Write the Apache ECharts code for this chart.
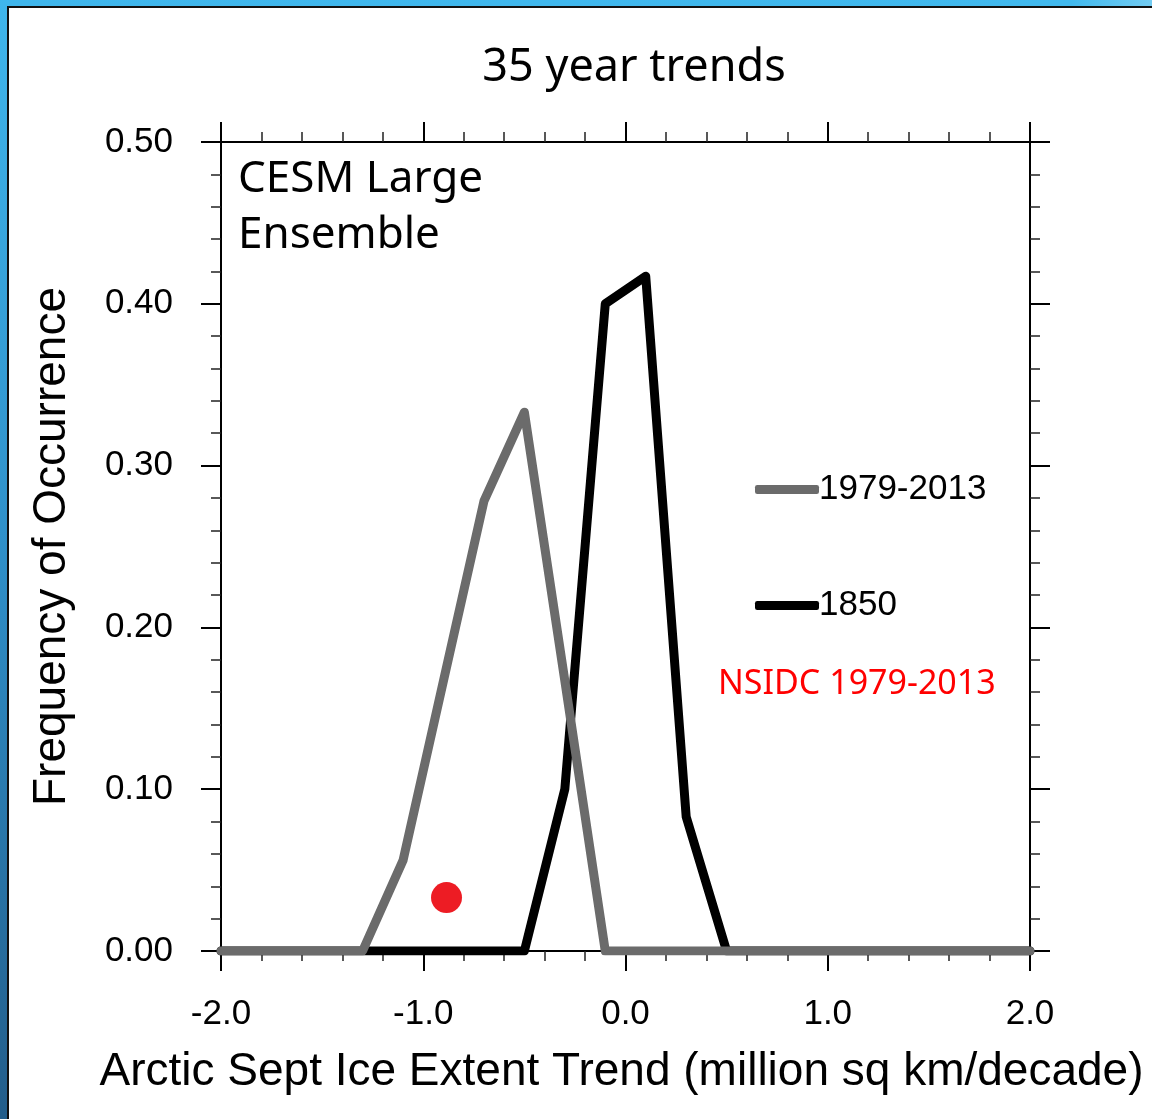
<!DOCTYPE html>
<html>
<head>
<meta charset="utf-8">
<script src="https://cdn.jsdelivr.net/npm/echarts@6/dist/echarts.min.js"></script>
<style>
html,body{margin:0;padding:0;background:#fff;}
#chart{width:1152px;height:1119px;}
</style>
</head>
<body>
<div id="chart"></div>
<script>
// Bin centres (million sq km / decade), with end points at the axis limits
const trendX = [-2.0, -1.9, -1.7, -1.5, -1.3, -1.1, -0.9, -0.7, -0.5, -0.3, -0.1, 0.1, 0.3, 0.5, 0.7, 0.9, 1.1, 1.3, 1.5, 1.7, 1.9, 2.0];
// Frequency of occurrence, CESM LE 1979-2013 trends
const freq19792013 = [0, 0, 0, 0, 0, 0.056, 0.167, 0.278, 0.333, 0.167, 0, 0, 0, 0, 0, 0, 0, 0, 0, 0, 0, 0];
// Frequency of occurrence, 1850 control trends
const freq1850 = [0, 0, 0, 0, 0, 0, 0, 0, 0, 0.100, 0.400, 0.417, 0.083, 0, 0, 0, 0, 0, 0, 0, 0, 0];
// NSIDC observed 1979-2013 trend
const nsidcTrend = [-0.885];
const nsidcFreq = [0.033];
const seriesNames = ['1979-2013', '1850'];

const pairs = (xs, ys) => xs.map((x, i) => [x, ys[i]]);

const chart = echarts.init(document.getElementById('chart'));
const sans = 'Liberation Sans';
const hum = 'Noto Sans';

const axisCommon = {
  type: 'value',
  axisLine: {show: true, onZero: false, lineStyle: {color: '#000', width: 2}},
  axisTick: {show: true, inside: false, length: 20, lineStyle: {color: '#000', width: 2}},
  minorTick: {show: true, splitNumber: 5, length: 10, lineStyle: {color: '#222', width: 1.5}},
  splitLine: {show: false},
  minorSplitLine: {show: false}
};

chart.setOption({
  animation: false,
  backgroundColor: '#fff',
  title: {
    text: '35 year trends',
    left: 629, top: 41, textAlign: 'center',
    textStyle: {fontFamily: hum, fontSize: 45, fontWeight: 'normal', color: '#000'}
  },
  grid: {left: 221, right: 122, top: 142, bottom: 168, containLabel: false, outerBoundsMode: 'none'},
  xAxis: [
    Object.assign({}, axisCommon, {
      position: 'bottom', min: -2, max: 2, interval: 1,
      axisLabel: {show: true, margin: 46, fontFamily: sans, fontSize: 35, color: '#000',
        formatter: v => v.toFixed(1)},
      name: 'Arctic Sept Ice Extent Trend (million sq km/decade)',
      nameLocation: 'middle', nameGap: 98,
      nameTextStyle: {fontFamily: sans, fontSize: 46, color: '#000', padding: [0, 0, 0, -8]}
    }),
    Object.assign({}, axisCommon, {
      position: 'top', min: -2, max: 2, interval: 1,
      axisLabel: {show: false}
    })
  ],
  yAxis: [
    Object.assign({}, axisCommon, {
      position: 'left', min: 0, max: 0.5, interval: 0.1,
      axisLabel: {show: true, margin: 48, fontFamily: sans, fontSize: 35, color: '#000',
        formatter: v => v.toFixed(2)},
      name: 'Frequency of Occurrence',
      nameLocation: 'middle', nameGap: 146, nameRotate: 90,
      nameTextStyle: {fontFamily: sans, fontSize: 46, color: '#000'}
    }),
    Object.assign({}, axisCommon, {
      position: 'right', min: 0, max: 0.5, interval: 0.1,
      axisLabel: {show: false}
    })
  ],
  legend: {
    show: true,
    orient: 'vertical',
    left: 750, top: 467,
    selectedMode: false,
    icon: 'roundRect',
    itemWidth: 64, itemHeight: 9,
    itemGap: 81,
    data: seriesNames,
    textStyle: {fontFamily: sans, fontSize: 35, color: '#000', padding: [0, 0, 0, -5]}
  },
  series: [
    {
      name: '1850', type: 'line', data: pairs(trendX, freq1850),
      showSymbol: false, symbol: 'none', color: '#000',
      lineStyle: {color: '#000', width: 9, cap: 'round', join: 'round'}
    },
    {
      name: '1979-2013', type: 'line', data: pairs(trendX, freq19792013),
      showSymbol: false, symbol: 'none', color: '#6b6b6b',
      lineStyle: {color: '#6b6b6b', width: 9, cap: 'round', join: 'round'}
    },
    {
      name: 'NSIDC 1979-2013', type: 'scatter', data: pairs(nsidcTrend, nsidcFreq),
      symbol: 'circle', symbolSize: 31, itemStyle: {color: '#ed1c24', opacity: 1}, z: 5
    }
  ],
  graphic: [
    {type: 'rect', shape: {x: 0, y: 0, width: 1152, height: 6}, z: 100,
      style: {fill: new echarts.graphic.LinearGradient(0, 0, 1, 0, [
        {offset: 0, color: '#3fb6ec'}, {offset: 0.93, color: '#41b9ee'}, {offset: 1, color: '#72ccf2'}])}},
    {type: 'rect', shape: {x: 0, y: 0, width: 7, height: 1119}, z: 100,
      style: {fill: new echarts.graphic.LinearGradient(0, 0, 0, 1, [
        {offset: 0, color: '#3fb6ec'}, {offset: 0.5, color: '#2f8fc8'}, {offset: 1, color: '#235d8a'}])}},
    {type: 'rect', shape: {x: 7, y: 6, width: 1145, height: 2}, z: 100, style: {fill: '#111'}},
    {type: 'rect', shape: {x: 7, y: 6, width: 2, height: 1113}, z: 100, style: {fill: '#111'}},
    {type: 'text', x: 238, y: 179, z: 10,
      style: {text: 'CESM Large', font: '44px "Noto Sans"', fill: '#000', verticalAlign: 'middle'}},
    {type: 'text', x: 238, y: 235, z: 10,
      style: {text: 'Ensemble', font: '44px "Noto Sans"', fill: '#000', verticalAlign: 'middle'}},
    {type: 'text', x: 718, y: 684, z: 10,
      style: {text: 'NSIDC 1979-2013', font: '34px "Noto Sans"', fill: '#ff0000', verticalAlign: 'middle'}}
  ]
});
</script>
</body>
</html>
